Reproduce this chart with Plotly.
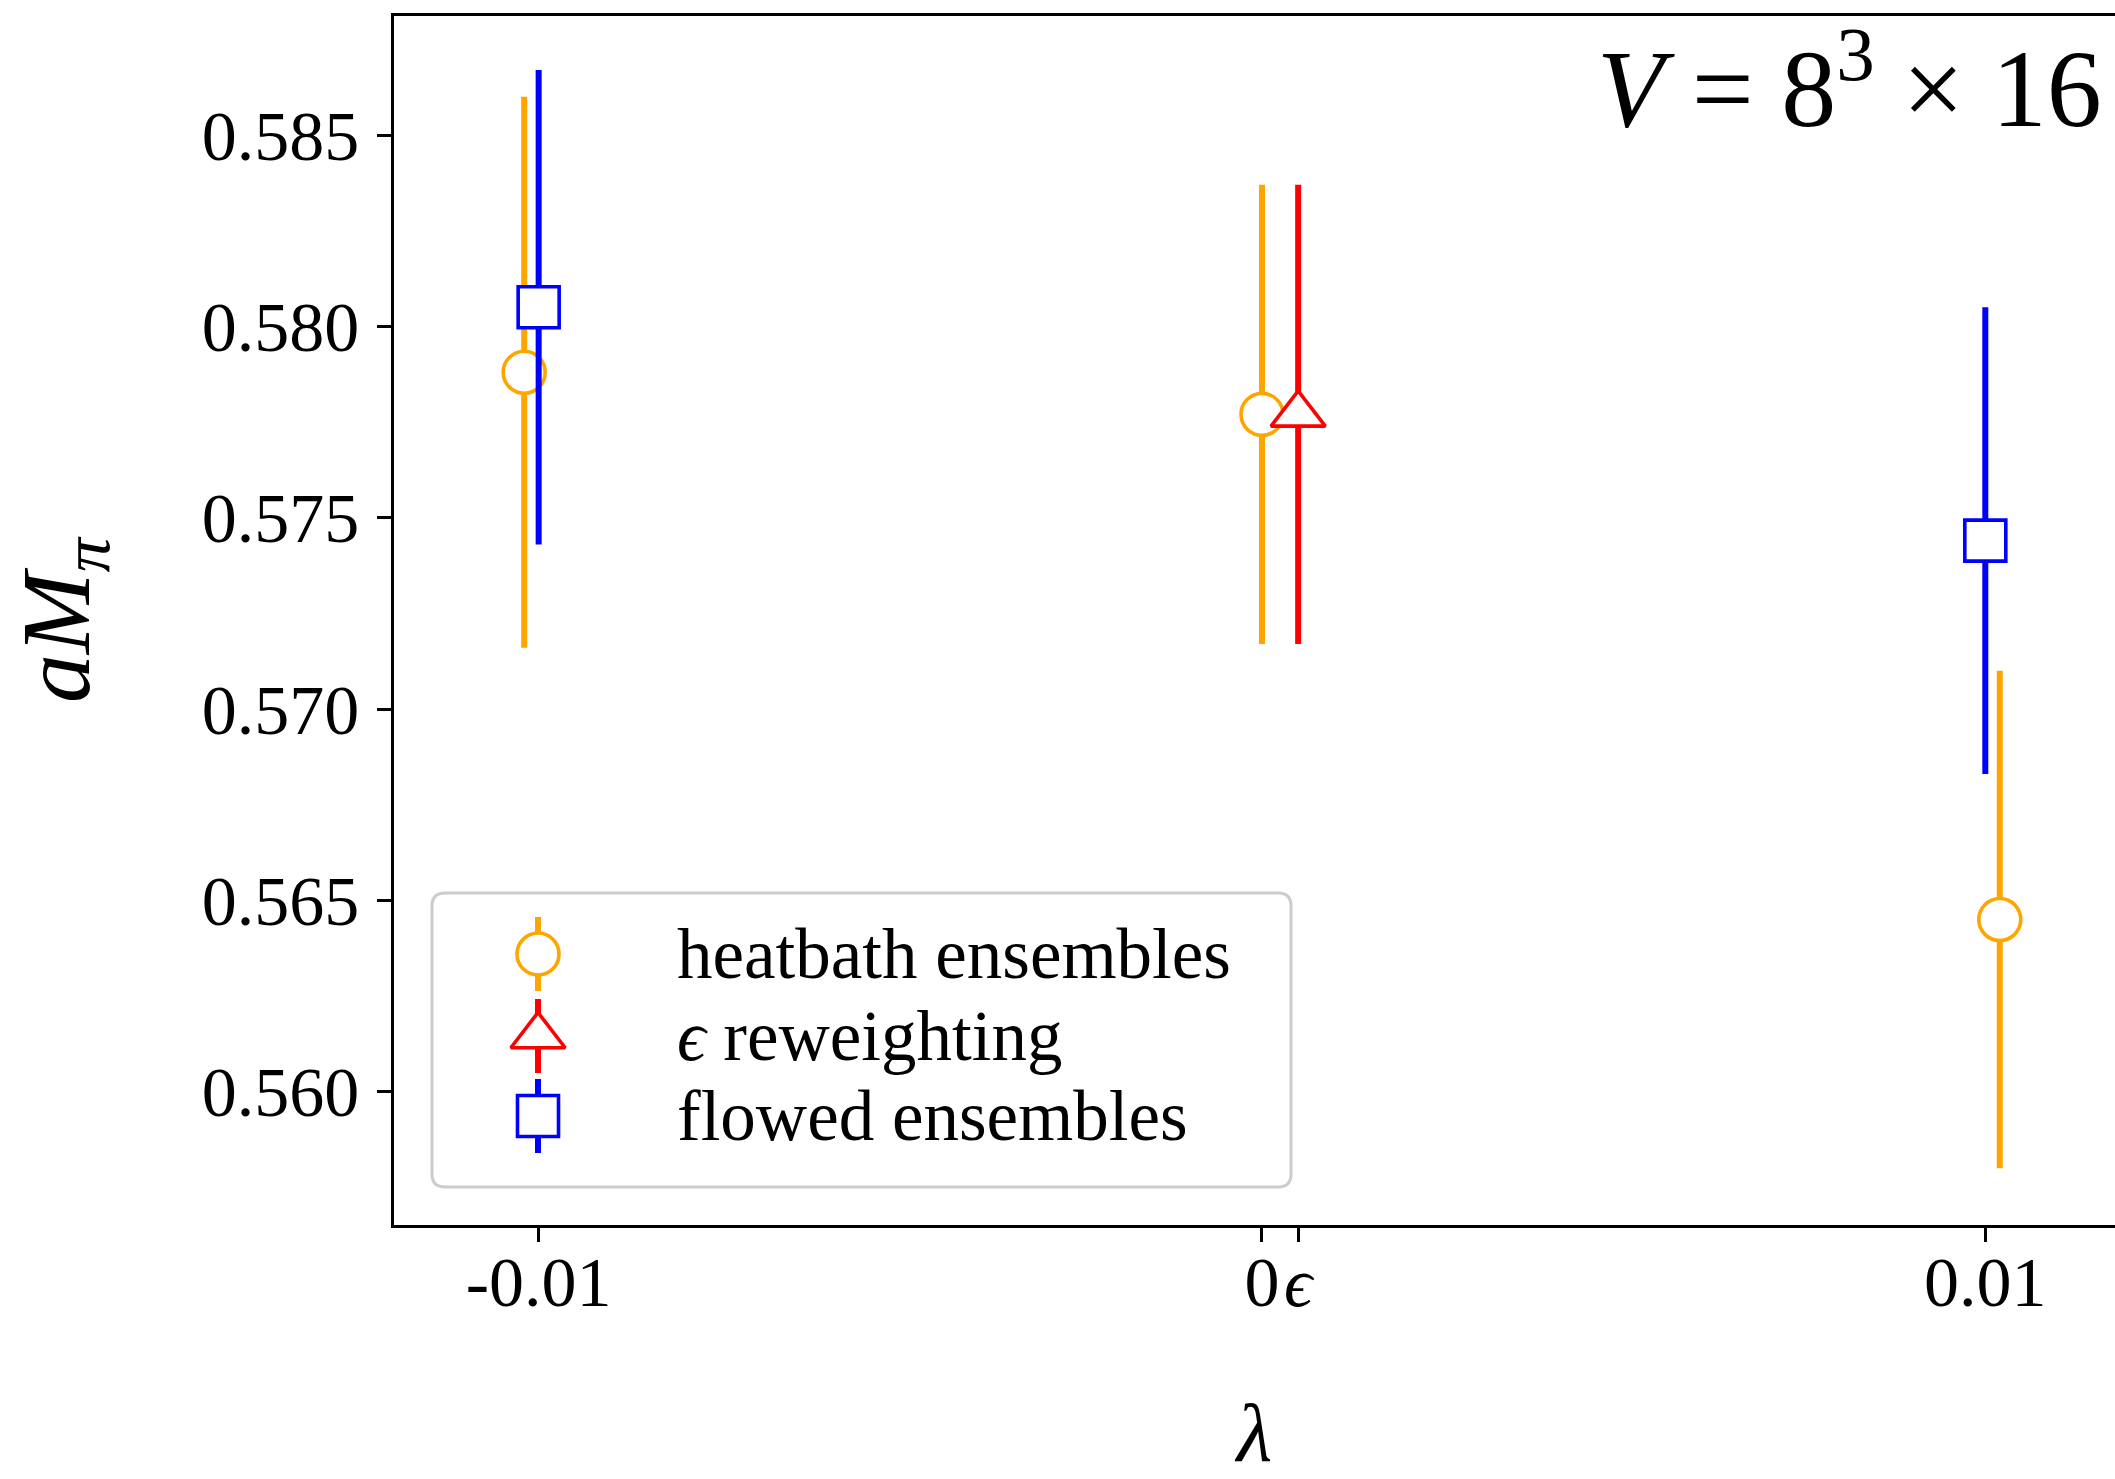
import plotly.graph_objects as go

# ---- data ----
heat_x = [-0.0102, 0.0, 0.0102]
heat_y = [0.5788, 0.5777, 0.5645]
heat_err = [0.0072, 0.0060, 0.0065]

rew_x = [0.0005]
rew_y = [0.5777]
rew_err = [0.0060]

flow_x = [-0.01, 0.01]
flow_y = [0.5805, 0.5744]
flow_err = [0.0062, 0.0061]

xtick_vals = [-0.01, 0.0, 0.0005, 0.01]
xtick_text = ["-0.01", "0", "<i>ϵ</i>", "0.01"]
ytick_vals = [0.560, 0.565, 0.570, 0.575, 0.580, 0.585]

series_names = ["heatbath ensembles", "<i>ϵ</i> reweighting", "flowed ensembles"]

# ---- style ----
FONT = "Liberation Serif"
ORANGE, RED, BLUE = "#FFA500", "#FF0000", "#0000FF"
W, H = 2115, 1479
L, T, B = 394, 16, 1225  # plot area in pixels (right edge is clipped at W)

fig = go.Figure()

def add_series(x, y, err, color, symbol, size, name, xa="x", ya="y"):
    fig.add_trace(go.Scatter(
        x=x, y=y, mode="markers", name=name, showlegend=False,
        xaxis=xa, yaxis=ya,
        marker=dict(symbol=symbol, size=size, color="white",
                    line=dict(color=color, width=3.6)),
        error_y=dict(type="data", array=err, visible=True,
                     color=color, thickness=6, width=0),
    ))

STY = [(ORANGE, "circle", 42), (RED, "triangle-up", 47), (BLUE, "square", 41)]

add_series(heat_x, heat_y, heat_err, *STY[0], series_names[0])
add_series(rew_x, rew_y, rew_err, *STY[1], series_names[1])
add_series(flow_x, flow_y, flow_err, *STY[2], series_names[2])

# ---- custom legend on a pixel-coordinate overlay axis ----
leg_rows = [954, 1036, 1116]
leg_x = 538
for row, (c, s, sz), nm in zip(leg_rows, STY, series_names):
    add_series([leg_x], [row], [37], c, s, sz, nm, xa="x2", ya="y2")
    fig.add_annotation(x=675, y=row, xref="x2", yref="y2", text=nm,
                       showarrow=False, xanchor="left", yanchor="middle",
                       font=dict(family=FONT, size=71, color="black"))

# rounded legend frame
x0, y0, x1, y1, r = 432, 893, 1291, 1187, 13
path = (f"M{x0+r},{y0} L{x1-r},{y0} Q{x1},{y0} {x1},{y0+r} "
        f"L{x1},{y1-r} Q{x1},{y1} {x1-r},{y1} L{x0+r},{y1} "
        f"Q{x0},{y1} {x0},{y1-r} L{x0},{y0+r} Q{x0},{y0} {x0+r},{y0} Z")
fig.add_shape(type="path", path=path, xref="x2", yref="y2",
              line=dict(color="#cccccc", width=3), fillcolor="white",
              layer="below")

# volume label
fig.add_annotation(x=2104, y=80, xref="x2", yref="y2",
                   text="<i>V</i> = 8<sup>3</sup> × 16", showarrow=False,
                   xanchor="right", yanchor="middle",
                   font=dict(family=FONT, size=110, color="black"))

axis_common = dict(
    showgrid=False, zeroline=False, showline=True, linecolor="black",
    linewidth=2.7, ticks="outside", ticklen=14, tickwidth=2.5,
    tickcolor="black", tickfont=dict(family=FONT, size=70, color="black"),
    automargin=False,
)

fig.update_layout(
    width=W, height=H,
    margin=dict(l=L, r=0, t=T, b=H - B, autoexpand=False),
    paper_bgcolor="white", plot_bgcolor="white",
    showlegend=False,
    xaxis=dict(axis_common, range=[-0.012, 0.011793], mirror=True,
               tickvals=xtick_vals, ticktext=xtick_text, tickangle=0,
               ticklabelstandoff=-20,
               title=dict(text="<i>λ</i>", standoff=106,
                          font=dict(family=FONT, size=82, color="black"))),
    yaxis=dict(axis_common, range=[0.556517, 0.58811], mirror=False,
               tickvals=ytick_vals, tickformat=".3f",
               ticklabelstandoff=4,
               title=dict(text="<i>aM</i><sub><i>π</i></sub>", standoff=80,
                          font=dict(family=FONT, size=98, color="black"))),
    xaxis2=dict(overlaying="x", anchor="y2", range=[L, W], visible=False),
    yaxis2=dict(overlaying="y", anchor="x2", range=[B, T], visible=False),
)

fig.write_html("out.html")
